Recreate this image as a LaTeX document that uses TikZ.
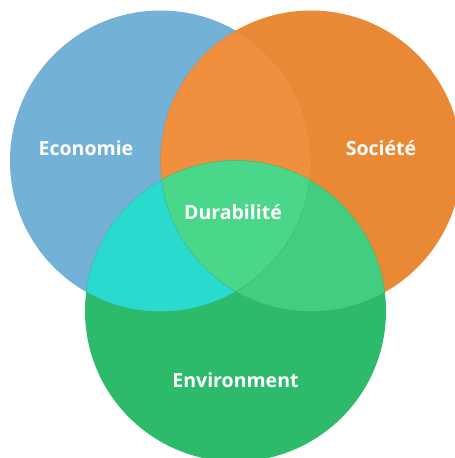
\documentclass[tikz,border=0pt]{standalone}
\usepackage{fontspec}
\setmainfont{Open Sans}
\definecolor{cblue}{HTML}{74B1D6}
\definecolor{corange}{HTML}{EA8935}
\definecolor{cgreen}{HTML}{2DBA6A}
\definecolor{cbo}{HTML}{F08F3E}
\definecolor{cbg}{HTML}{2BDACF}
\definecolor{cog}{HTML}{42CE7E}
\definecolor{cbog}{HTML}{4AD78A}
\tikzset{
  lbl/.style={text=white, font=\fontsize{19.5}{22}\selectfont\bfseries, inner sep=0pt},
  edge/.style={draw=black!60, draw opacity=0.15, line width=0.5pt}
}
\begin{document}
\begin{tikzpicture}[x=1pt,y=-1pt]
\useasboundingbox (0,0) rectangle (455,458);
\coordinate (cB) at (160.5,161);
\coordinate (cO) at (311,161);
\coordinate (cG) at (235.5,311);
\def\R{150.5}
\fill[cblue] (cB) circle[radius=\R];
\fill[corange] (cO) circle[radius=\R];
\begin{scope}
  \clip (cB) circle[radius=\R];
  \fill[cbo] (cO) circle[radius=\R];
\end{scope}
\fill[cgreen] (cG) circle[radius=\R];
\begin{scope}
  \clip (cB) circle[radius=\R];
  \fill[cbg] (cG) circle[radius=\R];
\end{scope}
\begin{scope}
  \clip (cO) circle[radius=\R];
  \fill[cog] (cG) circle[radius=\R];
\end{scope}
\begin{scope}
  \clip (cB) circle[radius=\R];
  \clip (cO) circle[radius=\R];
  \fill[cbog] (cG) circle[radius=\R];
\end{scope}
\begin{scope}
  \clip (cB) circle[radius=\R];
  \draw[edge] (cO) circle[radius=\R];
  \draw[edge] (cG) circle[radius=\R];
\end{scope}
\begin{scope}
  \clip (cO) circle[radius=\R];
  \draw[edge] (cB) circle[radius=\R];
  \draw[edge] (cG) circle[radius=\R];
\end{scope}
\begin{scope}
  \clip (cG) circle[radius=\R];
  \draw[edge] (cB) circle[radius=\R];
  \draw[edge] (cO) circle[radius=\R];
\end{scope}
\node[lbl] (eco) at (86,148) {Economie};
\node[lbl] (soc) at (381,148) {Société};
\node[lbl] (dur) at (233,212) {Durabilité};
\node[lbl] (env) at (235.5,380) {Environment};
\end{tikzpicture}
\end{document}
